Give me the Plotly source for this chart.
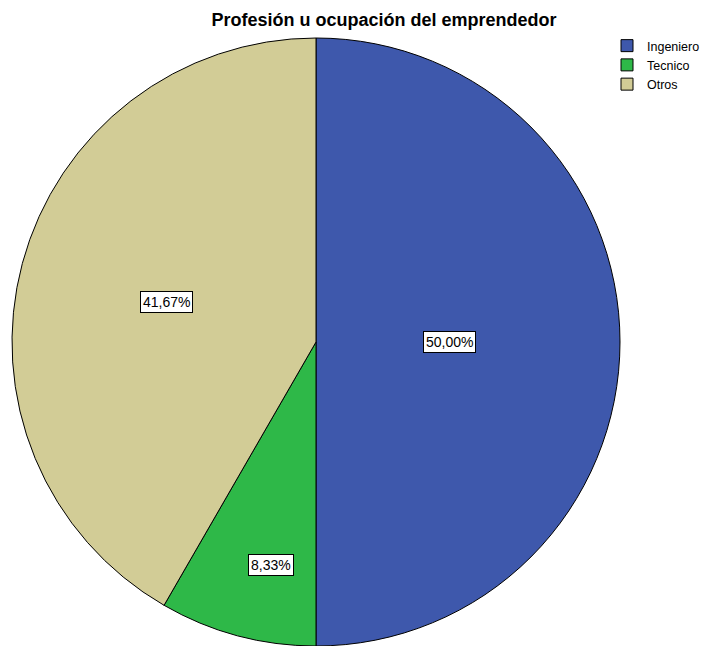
import math
import plotly.graph_objects as go

# ---- data ----
categories = ["Ingeniero", "Tecnico", "Otros"]
percent_values = [50.00, 8.33, 41.67]
percent_labels = ["50,00%", "8,33%", "41,67%"]
colors = ["#3E58AC", "#2EB848", "#D2CC96"]

# ---- geometry / layout ----
W, H = 702, 646
CX, CY, R = 316, 342, 304
label_rfrac = [0.44, 0.75, 0.51]
label_dtheta = [0.0, -3.5, 0.0]

dom_x = [(CX - R) / W, (CX + R) / W]
dom_y = [1 - (CY + R) / H, 1 - (CY - R) / H]

fig = go.Figure()
fig.add_trace(go.Pie(
    labels=categories,
    values=percent_values,
    sort=False,
    direction="clockwise",
    rotation=0,
    marker=dict(colors=colors, line=dict(color="black", width=1)),
    textinfo="none",
    hoverinfo="label+percent",
    domain=dict(x=dom_x, y=dom_y),
))

# label boxes positioned at slice mid-angles computed from data
total = sum(percent_values)
cum = 0.0
annotations = []
for i, v in enumerate(percent_values):
    mid = (cum + v / 2) / total * 360 + label_dtheta[i]
    cum += v
    th = math.radians(mid)
    r = label_rfrac[i] * R
    px = CX + r * math.sin(th)
    py = CY - r * math.cos(th)
    annotations.append(dict(
        x=px / W, y=1 - py / H, xref="paper", yref="paper",
        text=percent_labels[i], showarrow=False,
        font=dict(family="Liberation Sans, Arial", size=14, color="black"),
        bgcolor="white", bordercolor="black", borderwidth=1, borderpad=2,
        xanchor="center", yanchor="middle",
    ))

fig.update_layout(
    width=W, height=H,
    margin=dict(l=0, r=0, t=0, b=0, autoexpand=False),
    paper_bgcolor="white",
    plot_bgcolor="white",
    title=dict(
        text="<b>Profesión u ocupación del emprendedor</b>",
        x=384 / W, xanchor="center", xref="paper",
        y=1 - 20 / H, yanchor="middle", yref="container",
        font=dict(family="Liberation Sans, Arial", size=18, color="black"),
    ),
    legend=dict(
        x=607 / W, y=1 - 31 / H, xanchor="left", yanchor="top",
        font=dict(family="Liberation Sans, Arial", size=12.5, color="black"),
        bgcolor="rgba(0,0,0,0)", borderwidth=0,
        itemwidth=30, tracegroupgap=0,
    ),
    annotations=annotations,
)

fig.write_html(
    "out.html",
    config={"displayModeBar": False},
    post_script="document.body.style.margin='0';document.body.style.overflow='hidden';",
)
